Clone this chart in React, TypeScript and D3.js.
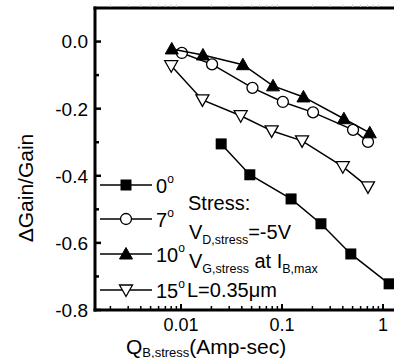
import React from "react";
import * as d3 from "d3";

// Stress charge (Amp-sec) and relative gain change for each tilt angle
const q0 = [0.025, 0.048, 0.123, 0.243, 0.48, 1.15];
const g0 = [-0.305, -0.397, -0.469, -0.543, -0.633, -0.722];
const q7 = [0.0102, 0.0203, 0.051, 0.102, 0.203, 0.505, 0.71];
const g7 = [-0.034, -0.068, -0.138, -0.18, -0.211, -0.263, -0.299];
const q10 = [0.0081, 0.0165, 0.041, 0.0815, 0.163, 0.41, 0.74];
const g10 = [-0.022, -0.04, -0.069, -0.132, -0.165, -0.23, -0.272];
const q15 = [0.008, 0.0163, 0.039, 0.079, 0.158, 0.4, 0.71];
const g15 = [-0.072, -0.174, -0.221, -0.266, -0.296, -0.373, -0.433];

const angles = ["0", "7", "10", "15"];
const yTicks = [0, -0.2, -0.4, -0.6, -0.8];
const yMinor = [-0.1, -0.3, -0.5, -0.7];
const xTicks = [0.01, 0.1, 1];

const W = 394;
const H = 358;
const FONT = "'Liberation Sans', Arial, Helvetica, sans-serif";

type Shape = "square" | "circle" | "up" | "down";

function Marker({ shape, cx, cy }: { shape: Shape; cx: number; cy: number }) {
  if (shape === "square")
    return <rect x={cx - 5.5} y={cy - 5.5} width={11} height={11} fill="#000" />;
  if (shape === "circle")
    return <circle cx={cx} cy={cy} r={5.5} fill="#fff" stroke="#000" strokeWidth={1.3} />;
  if (shape === "up")
    return (
      <path
        d={`M${cx},${cy - 6.5}L${cx + 6.5},${cy + 5}L${cx - 6.5},${cy + 5}Z`}
        fill="#000"
        stroke="#000"
        strokeWidth={1}
      />
    );
  return (
    <path
      d={`M${cx},${cy + 6.5}L${cx + 6.5},${cy - 5}L${cx - 6.5},${cy - 5}Z`}
      fill="#fff"
      stroke="#000"
      strokeWidth={1.3}
    />
  );
}

export default function App() {
  const left = 95;
  const top = 8;
  const bottom = 310;

  const x = d3.scaleLog().domain([0.01, 1]).range([181, 383]);
  const y = d3.scaleLinear().domain([-0.8, 0.1]).range([bottom, top]);

  const series: { q: number[]; g: number[]; shape: Shape }[] = [
    { q: q0, g: g0, shape: "square" },
    { q: q7, g: g7, shape: "circle" },
    { q: q10, g: g10, shape: "up" },
    { q: q15, g: g15, shape: "down" },
  ];

  const line = d3
    .line<[number, number]>()
    .x((d) => x(d[0]))
    .y((d) => y(d[1]));

  // log minor ticks across the visible range
  const xLo = x.invert(left);
  const xHi = x.invert(W);
  const minorX: number[] = [];
  for (let e = -3; e <= 0; e++) {
    for (let m = 2; m <= 9; m++) {
      const v = m * Math.pow(10, e);
      if (v > xLo && v < xHi) minorX.push(v);
    }
  }

  const legendRows = [185, 219, 254, 290];
  const sub = { fontSize: 12.5 };

  return (
    <svg
      width={W}
      height={H}
      style={{ position: "absolute", left: 0, top: 0, background: "#fff" }}
      fontFamily={FONT}
    >
      <rect width={W} height={H} fill="#fff" />

      {/* data lines and markers */}
      {series.map((s, i) => (
        <g key={i}>
          <path
            d={line(s.q.map((q, j) => [q, s.g[j]] as [number, number])) || ""}
            fill="none"
            stroke="#000"
            strokeWidth={1.5}
          />
          {s.q.map((q, j) => (
            <Marker key={j} shape={s.shape} cx={x(q)} cy={y(s.g[j])} />
          ))}
        </g>
      ))}

      {/* frame */}
      <line x1={left} x2={left} y1={top - 1.5} y2={bottom + 1.5} stroke="#000" strokeWidth={3} />
      <line x1={left - 1.5} x2={W} y1={top} y2={top} stroke="#000" strokeWidth={3} />
      <line x1={left - 1.5} x2={W} y1={bottom} y2={bottom} stroke="#000" strokeWidth={3} />

      {/* y ticks */}
      {yTicks.map((t) => (
        <g key={t}>
          <line x1={left} x2={left + 6} y1={y(t)} y2={y(t)} stroke="#000" strokeWidth={2.5} />
          <text x={88} y={y(t)} dy="0.36em" textAnchor="end" fontSize={19}>
            {t.toFixed(1)}
          </text>
        </g>
      ))}
      {yMinor.map((t) => (
        <line key={t} x1={left} x2={left + 4} y1={y(t)} y2={y(t)} stroke="#000" strokeWidth={2.5} />
      ))}

      {/* x ticks */}
      {xTicks.map((t) => (
        <g key={t}>
          <line x1={x(t)} x2={x(t)} y1={bottom} y2={bottom - 6} stroke="#000" strokeWidth={2} />
          <text x={x(t)} y={330.5} textAnchor="middle" fontSize={18}>
            {String(t)}
          </text>
        </g>
      ))}
      {minorX.map((t) => (
        <g key={t}>
          <line x1={x(t)} x2={x(t)} y1={bottom} y2={bottom - 4} stroke="#000" strokeWidth={1.5} />
          <line x1={x(t)} x2={x(t)} y1={top - 1} y2={top - 3.5} stroke="#ccc" strokeWidth={1} />
        </g>
      ))}

      {/* axis titles */}
      <text transform="translate(33,188) rotate(-90)" textAnchor="middle" fontSize={21}>
        ΔGain/Gain
      </text>
      <text x={126} y={353.5} fontSize={21}>
        Q
        <tspan dy={3} fontSize={13}>B,stress</tspan>
        <tspan dy={-3}>(Amp-sec)</tspan>
      </text>

      {/* legend */}
      {legendRows.map((ry, i) => (
        <g key={i}>
          <line x1={100} x2={152} y1={ry} y2={ry} stroke="#000" strokeWidth={1.5} />
          <Marker shape={series[i].shape} cx={126} cy={ry} />
          <text x={156} y={ry + 8} fontSize={20}>
            {angles[i]}
            <tspan dy={-10} fontSize={12}>o</tspan>
          </text>
        </g>
      ))}

      {/* stress conditions */}
      <text x={188} y={210} fontSize={20}>Stress:</text>
      <text x={189} y={239} fontSize={20}>
        V<tspan dy={5} {...sub}>D,stress</tspan>
        <tspan dy={-5}>=-5V</tspan>
      </text>
      <text x={189} y={268} fontSize={20}>
        V<tspan dy={5} {...sub}>G,stress</tspan>
        <tspan dy={-5}> at I</tspan>
        <tspan dy={5} {...sub}>B,max</tspan>
      </text>
      <text x={187} y={297} fontSize={20}>L=0.35μm</text>
    </svg>
  );
}
